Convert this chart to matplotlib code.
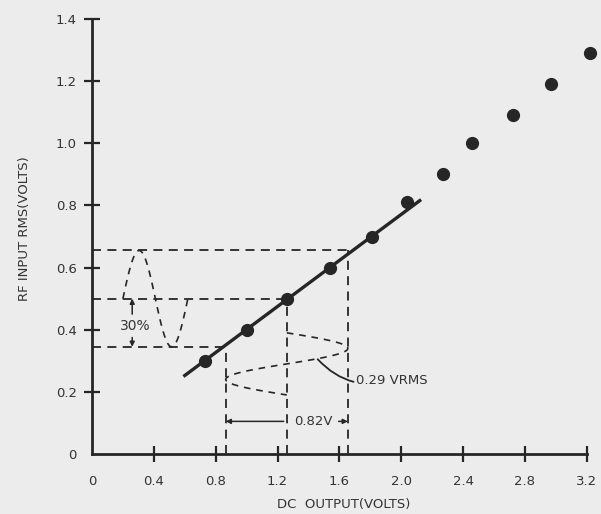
import numpy as np
import matplotlib
matplotlib.use('Agg')
import matplotlib.pyplot as plt

# measured points: DC output (V) vs RF input rms (V)
dc_out = [0.73, 1.00, 1.26, 1.54, 1.81, 2.04, 2.27, 2.46, 2.72, 2.97, 3.22]
rf_in = [0.30, 0.40, 0.50, 0.60, 0.70, 0.81, 0.90, 1.00, 1.09, 1.19, 1.29]

x_ticks = [0.4, 0.8, 1.2, 1.6, 2.0, 2.4, 2.8, 3.2]
x_ticklabels = ['0.4', '0.8', '1.2', '1.6', '2.0', '2.4', '2.8', '3.2']
y_ticks = [0.2, 0.4, 0.6, 0.8, 1.0, 1.2, 1.4]
y_ticklabels = ['0.2', '0.4', '0.6', '0.8', '1.0', '1.2', '1.4']

# modulation example: rf levels and matching dc levels
rf_levels = [0.345, 0.50, 0.655]
dc_levels = [0.865, 1.26, 1.655]

ink = '#262626'
txt = '#333333'
bg = '#ececec'
dash = (0, (5, 3.5))
dash_c = (0, (4, 3.5))

fig = plt.figure(figsize=(6.01, 5.14), dpi=100, facecolor=bg)
ax = fig.add_axes([92 / 601, 60 / 514, 3.25 * 154.6 / 601, 1.45 * 310.7 / 514])
ax.set_facecolor(bg)
ax.set_xlim(0, 3.25)
ax.set_ylim(0, 1.45)

for s in ['top', 'right']:
    ax.spines[s].set_visible(False)
ax.spines['left'].set_bounds(0, 1.4)
ax.spines['bottom'].set_bounds(0, 3.2)
for s in ['left', 'bottom']:
    ax.spines[s].set_linewidth(2)
    ax.spines[s].set_color(ink)

ax.set_xticks([0] + x_ticks)
ax.set_xticklabels(['0'] + x_ticklabels)
ax.set_yticks([0] + y_ticks)
ax.set_yticklabels(['0'] + y_ticklabels)
ax.tick_params(axis='both', direction='inout', length=12, width=1.6, color=ink,
               labelsize=9.5, labelcolor=txt)
ax.tick_params(axis='x', pad=9)
ax.tick_params(axis='y', pad=5)
# no tick mark at the origin
ax.xaxis.get_major_ticks()[0].tick1line.set_visible(False)
ax.yaxis.get_major_ticks()[0].tick1line.set_visible(False)

ax.set_xlabel('DC  OUTPUT(VOLTS)', fontsize=9.5, color=txt, labelpad=7)
ax.set_ylabel('RF INPUT RMS(VOLTS)', fontsize=9.5, color=txt, labelpad=18)

# data points
ax.plot(dc_out, rf_in, 'o', color=ink, markersize=8.5, clip_on=False, zorder=5)

# straight-line fit through the linear part
k, b = np.polyfit(dc_out[:5], rf_in[:5], 1)
xf = np.array([0.60, 2.12])
ax.plot(xf, k * xf + b, color=ink, lw=2.4, zorder=4)

# dashed projection lines
for rl, dl in zip(rf_levels, dc_levels):
    ax.plot([0, dl], [rl, rl], color=ink, lw=1.3, linestyle=dash)
    ax.plot([dl, dl], [0, rl], color=ink, lw=1.3, linestyle=dash)

# input modulation sketch (left)
t = np.linspace(0, 2 * np.pi, 100)
amp_in = rf_levels[2] - rf_levels[1]
ax.plot(0.2 + 0.42 * t / (2 * np.pi), rf_levels[1] + amp_in * np.sin(t),
        color=ink, lw=1.2, linestyle=dash_c)

# output modulation sketch (bottom)
amp_out = dc_levels[2] - dc_levels[1]
ax.plot(dc_levels[1] + amp_out * np.sin(t), 0.39 - 0.2 * t / (2 * np.pi),
        color=ink, lw=1.2, linestyle=dash_c)

# 30% annotation
ax.text(0.28, 0.412, '30%', fontsize=10, color=txt, ha='center', va='center')
arr = dict(arrowstyle='-|>', color=ink, lw=1.1, mutation_scale=7, shrinkA=0, shrinkB=0)
ax.annotate('', xy=(0.26, rf_levels[1]), xytext=(0.26, 0.45), arrowprops=arr)
ax.annotate('', xy=(0.26, rf_levels[0]), xytext=(0.26, 0.375), arrowprops=arr)

# 0.82V annotation
ax.annotate('', xy=(dc_levels[0], 0.105), xytext=(1.24, 0.105), arrowprops=arr)
ax.text(1.43, 0.105, '0.82V', fontsize=9.5, color=txt, ha='center', va='center')
ax.annotate('', xy=(dc_levels[2], 0.105), xytext=(1.595, 0.105), arrowprops=arr)

# 0.29 VRMS annotation
ax.annotate('0.29 VRMS', xy=(1.46, 0.305), xytext=(1.71, 0.235),
            fontsize=9.5, color=txt, va='center', ha='left',
            arrowprops=dict(arrowstyle='-', color=ink, lw=1.3, shrinkA=0, shrinkB=0,
                            connectionstyle='arc3,rad=-0.3'))

fig.savefig('out.png', dpi=100, facecolor=bg)
